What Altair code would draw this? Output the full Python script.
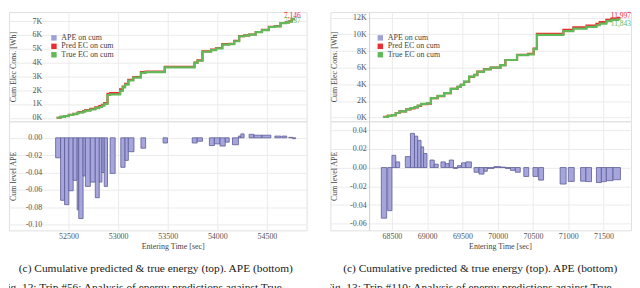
import altair as alt
import pandas as pd

FONT = "Liberation Serif"
RED = "#ec2b2e"
GREEN = "#62b958"
PURPLE_FILL = "#a6a6dd"
PURPLE_EDGE = "#5c5c96"
PURPLE_LEG = "#a0a0d8"
GRID = "#ebebeb"
LABEL = "#555555"

# ---------------- Trip #56 (left) ----------------
l_time = [52380, 52420, 52460, 52503, 52547, 52587, 52603, 52647, 52670, 52720, 52770, 52810, 52837, 52860,
          52893, 52920, 53020, 53047, 53070, 53103, 53153, 53230, 53277, 53470, 53770, 53800, 53850, 53937,
          53987, 54050, 54120, 54170, 54220, 54270, 54320, 54387, 54450, 54520, 54580, 54637, 54690, 54720,
          54750, 54780]
l_true = [0, 60, 120, 200, 260, 330, 380, 450, 520, 600, 700, 780, 880, 1000, 1650, 1700, 1950, 2200, 2400,
          2700, 2900, 3250, 3300, 3650, 3980, 4130, 4780, 4900, 5020, 5300, 5330, 5540, 5900, 5950, 6020, 6200,
          6350, 6570, 6620, 6850, 6900, 6970, 7137, 7137]
l_pred = [0, 65, 130, 215, 280, 360, 415, 490, 560, 650, 760, 840, 930, 1060, 1740, 1790, 2050, 2260, 2460,
          2750, 2950, 3300, 3340, 3680, 4000, 4150, 4800, 4930, 5050, 5330, 5360, 5570, 5910, 5960, 6030, 6210,
          6360, 6580, 6630, 6860, 6910, 6980, 7146, 7146]
l_bar_start = [52370, 52420, 52460, 52503, 52547, 52587, 52603, 52647, 52670, 52720, 52770, 52810, 52837, 52860,
               52920, 53027, 53070, 53103, 53230, 53453, 53747, 53797, 53920, 53970, 54027, 54080, 54153, 54213,
               54237, 54320, 54370, 54450, 54580, 54650, 54720, 54760]
l_bar_end = [52420, 52460, 52503, 52547, 52587, 52603, 52647, 52670, 52720, 52770, 52810, 52837, 52860, 52893,
             52970, 53070, 53103, 53160, 53277, 53497, 53797, 53850, 53970, 54027, 54080, 54120, 54213, 54237,
             54270, 54370, 54450, 54540, 54640, 54700, 54760, 54790]
l_bar_ape = [-0.023, -0.072, -0.077, -0.061, -0.049, -0.083, -0.093, -0.044, -0.056, -0.051, -0.069, -0.051,
             -0.040, -0.056, -0.041, -0.034, -0.026, -0.016, -0.012, -0.006, -0.006, -0.004, -0.009, -0.007,
             -0.0095, -0.005, -0.008, 0.002, 0.0045, 0.004, 0.003, 0.003, 0.002, 0.002, 0.0005, -0.001]
l_x_ticks = [52500, 53000, 53500, 54000, 54500]
l_ytop_ticks = [0, 1000, 2000, 3000, 4000, 5000, 6000, 7000]
l_ybot_ticks = [-0.10, -0.08, -0.06, -0.04, -0.02, 0.00]

# ---------------- Trip #110 (right) ----------------
r_time = [68373, 68440, 68500, 68555, 68608, 68701, 68763, 68820, 68866, 68913, 68997, 69053, 69148, 69242,
          69335, 69430, 69476, 69523, 69594, 69665, 69711, 69805, 69900, 70039, 70109, 70274, 70430, 70509,
          70556, 70932, 71072, 71260, 71400, 71447, 71541, 71611, 71706, 71740]
r_true = [70, 200, 300, 550, 750, 1000, 1150, 1250, 1450, 1650, 1700, 2340, 2600, 2940, 3460, 3700, 3940, 4330,
          4930, 5100, 5500, 5800, 6000, 6300, 6920, 7500, 7600, 8230, 9950, 10400, 10700, 10900, 11100, 11300,
          11600, 11750, 11843, 11843]
r_pred = [74, 210, 296, 545, 742, 985, 1115, 1210, 1405, 1610, 1675, 2320, 2585, 2920, 3440, 3700, 3925, 4305,
          4900, 5125, 5530, 5830, 6000, 6300, 6920, 7530, 7660, 8300, 10080, 10560, 10860, 11060, 11260, 11470,
          11760, 11910, 11997, 11997]
r_bar_start = [68350, 68440, 68500, 68555, 68690, 68763, 68820, 68866, 68913, 68950, 69040, 69100, 69195, 69257,
               69313, 69373, 69430, 69486, 69547, 69665, 69735, 69806, 69852, 69947, 70040, 70110, 70180, 70250,
               70370, 70500, 70580, 70885, 71000, 71175, 71250, 71400, 71470, 71540, 71635]
r_bar_end = [68425, 68500, 68555, 68610, 68763, 68820, 68866, 68913, 68950, 68997, 69100, 69157, 69257, 69313,
             69373, 69430, 69486, 69547, 69627, 69735, 69806, 69852, 69947, 70040, 70110, 70180, 70250, 70320,
             70440, 70570, 70650, 70970, 71085, 71250, 71330, 71470, 71540, 71635, 71740]
r_bar_ape = [-0.054, -0.046, 0.013, 0.006, 0.0117, 0.0364, 0.0335, 0.029, 0.022, 0.015, 0.008, 0.0036, 0.006,
             0.0042, 0.008, -0.001, 0.002, 0.005, 0.006, -0.005, -0.007, -0.004, -0.001, 0.001, 0.0005, -0.001,
             -0.003, -0.005, -0.0095, -0.0095, -0.0134, -0.0176, -0.0148, -0.0145, -0.015, -0.016, -0.015,
             -0.014, -0.013]
r_x_ticks = [68500, 69000, 69500, 70000, 70500, 71000, 71500]
r_ytop_ticks = [0, 2000, 4000, 6000, 8000, 10000, 12000]
r_ybot_ticks = [-0.06, -0.04, -0.02, 0.00, 0.02, 0.04]

series_names = ["APE on cum", "Pred EC on cum", "True EC on cum"]
caption_text = "(c) Cumulative predicted & true energy (top). APE (bottom)"
l_fig_text = "Fig. 12: Trip #56: Analysis of energy predictions against True"
r_fig_text = "Fig. 13: Trip #110: Analysis of energy predictions against True"


def panel(times, true, pred, bs, be, ba, xdom, ytop_dom, ybot_dom, xticks, ytop_ticks, ybot_ticks,
          width, ax_off, title_x, xtitle_x, show_domain, leg_x, cap_x, fig_x, fig_text,
          lab_dx, dy_pred, dy_true):
    xs = alt.Scale(domain=xdom, nice=False, zero=False)
    top_x = alt.X("t:Q", scale=xs, axis=alt.Axis(values=xticks, labels=False, ticks=False, domain=False,
                                                  grid=True, title=None))
    top_y = alt.Y("v:Q", scale=alt.Scale(domain=ytop_dom, nice=False, zero=False),
                  axis=alt.Axis(values=ytop_ticks, labelExpr="format(datum.value / 1000, 'd') + 'K'",
                                offset=ax_off, domain=show_domain, domainColor="#cfcfcf", ticks=False,
                                tickSize=0, labelPadding=3, title="Cum Elec Cons. [Wh]", titleX=title_x,
                                titleAngle=270, titleBaseline="bottom", titleAlign="center", grid=True))
    pred_df = pd.DataFrame({"t": times, "v": pred})
    true_df = pd.DataFrame({"t": times, "v": true})
    pred_line = alt.Chart(pred_df).mark_line(interpolate="step-after", color=RED, strokeWidth=2.2).encode(
        x=top_x, y=top_y)
    true_line = alt.Chart(true_df).mark_line(interpolate="step-after", color=GREEN, strokeWidth=2.2).encode(
        x=top_x, y=top_y)
    leg = alt.Chart(pd.DataFrame({"s": series_names})).transform_filter("false").mark_square(
        size=30, opacity=1).encode(
        color=alt.Color("s:N", scale=alt.Scale(domain=series_names, range=[PURPLE_LEG, RED, GREEN]),
                        legend=alt.Legend(orient="none", legendX=leg_x, legendY=22, title=None,
                                          symbolType="square", symbolSize=30, symbolStrokeWidth=0,
                                          labelFont=FONT, labelFontSize=8, labelColor="#444",
                                          rowPadding=0.5, padding=0, labelOffset=3.5)))
    end_pred = alt.Chart(pd.DataFrame({"t": [times[-1]], "v": [pred[-1]]})).mark_text(
        align="right", baseline="middle", dx=lab_dx, dy=dy_pred, color=RED, font=FONT, fontSize=7.5).encode(
        x=top_x, y=top_y, text=alt.Text("v:Q", format=","))
    end_true = alt.Chart(pd.DataFrame({"t": [times[-1]], "v": [true[-1]]})).mark_text(
        align="right", baseline="middle", dx=lab_dx, dy=dy_true, color=GREEN, font=FONT, fontSize=7.5).encode(
        x=top_x, y=top_y, text=alt.Text("v:Q", format=","))
    top = alt.layer(pred_line, true_line, leg, end_pred, end_true).properties(width=width, height=110)

    bar_df = pd.DataFrame({"s": bs, "e": be, "a": ba})
    bottom = alt.Chart(bar_df).mark_bar(color=PURPLE_FILL, stroke=PURPLE_EDGE, strokeWidth=0.8,
                                        opacity=1).encode(
        x=alt.X("s:Q", scale=xs,
                axis=alt.Axis(values=xticks, format="d", ticks=False, tickSize=0, domain=False, grid=True,
                              labelPadding=2.5, title="Entering Time [sec]", titleX=xtitle_x, titleY=12.5,
                              titleBaseline="top", titleAlign="center")),
        x2="e:Q",
        y=alt.Y("a:Q", scale=alt.Scale(domain=ybot_dom, nice=False, zero=False),
                axis=alt.Axis(values=ybot_ticks,
                              labelExpr="(datum.value < 0 ? '-' : '') + format(abs(datum.value), '.2f')",
                              offset=ax_off, domain=show_domain, domainColor="#cfcfcf", ticks=False,
                              tickSize=0, labelPadding=3, title="Cum level APE", titleX=title_x,
                              titleAngle=270, titleBaseline="bottom", titleAlign="center", grid=True)),
        y2=alt.datum(0),
    ).properties(width=width, height=110)

    cap = alt.Chart(pd.DataFrame({"c": [caption_text]})).mark_text(
        clip=True, font=FONT, fontSize=11.5, color="#1a1a1a", align="center", baseline="middle").encode(
        x=alt.value(cap_x), y=alt.value(39), text="c:N")
    fig = alt.Chart(pd.DataFrame({"f": [fig_text]})).mark_text(
        clip=True, font=FONT, fontSize=11.5, color="#1a1a1a", align="left", baseline="alphabetic").encode(
        x=alt.value(fig_x), y=alt.value(61), text="f:N")
    captions = alt.layer(cap, fig).properties(width=width, height=58,
                                              view=alt.ViewBackground(stroke="transparent"))
    return top, bottom, captions


lt, lb, lc = panel(l_time, l_true, l_pred, l_bar_start, l_bar_end, l_bar_ape,
                   [51900, 54900], [-250, 7650], [-0.1066, 0.0191], l_x_ticks, l_ytop_ticks, l_ybot_ticks,
                   300, -36, -27.5, 165, False, 41.3, 148, -8, l_fig_text, 6, -3, 1.5)
rt, rb, rc = panel(r_time, r_true, r_pred, r_bar_start, r_bar_end, r_bar_ape,
                   [67628, 71890], [-440, 12680], [-0.067, 0.0494], r_x_ticks, r_ytop_ticks, r_ybot_ticks,
                   303, -39, -31, 171, True, 46.3, 151, -5, r_fig_text, 10.6, -2, 5.5)

chart = alt.concat(
    lt, rt, lb, rb, lc, rc, columns=2, spacing={"row": 0, "column": 24}, bounds="flush", align="each"
).resolve_scale(
    color="independent", x="independent", y="independent"
).properties(
    padding={"left": 0, "top": 2, "right": 0, "bottom": 0}
).configure_view(
    stroke="#e0e0e0"
).configure_axis(
    labelFont=FONT, titleFont=FONT, labelFontSize=8, titleFontSize=8, labelColor=LABEL,
    titleColor="#444", titleFontWeight="normal", gridColor=GRID, gridWidth=1
)

chart.save("out.html", embed_options={"renderer": "svg", "actions": False})
